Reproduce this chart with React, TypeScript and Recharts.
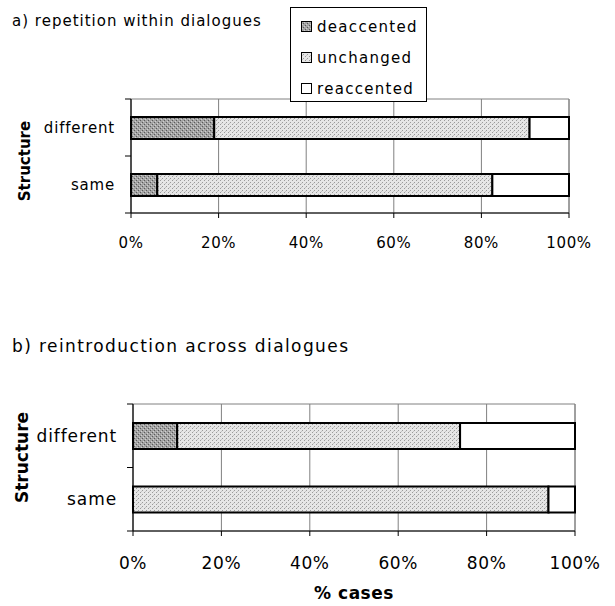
import React from "react";
import {
    BarChart,
    Bar,
    XAxis,
    YAxis,
    CartesianGrid,
    ReferenceArea,
    Legend,
    Label,
} from "recharts";

// categories on the vertical axis
const categories = ["different", "same"];
const seriesNames = ["deaccented", "unchanged", "reaccented"];
const percentTicks = [0, 20, 40, 60, 80, 100];

// a) repetition within dialogues (% of cases)
const repDeaccented = [19, 6];
const repUnchanged = [72, 76.5];
const repReaccented = [9, 17.5];

// b) reintroduction across dialogues (% of cases)
const reDeaccented = [10, 0];
const reUnchanged = [64, 94];
const reReaccented = [26, 6];

const FONT = "'DejaVu Sans', sans-serif";
const fills = ["url(#patDeacc)", "url(#patUnch)", "#ffffff"];

const buildRows = (d: number[], u: number[], r: number[]) =>
    categories.map((name, i) => ({
        name,
        deaccented: d[i],
        unchanged: u[i],
        reaccented: r[i],
    }));

const repData = buildRows(repDeaccented, repUnchanged, repReaccented);
const reData = buildRows(reDeaccented, reUnchanged, reReaccented);

function Patterns() {
    return (
        <defs>
            <pattern id="patDeacc" width="4" height="4" patternUnits="userSpaceOnUse">
                <rect width="4" height="4" fill="#a4a4a4" />
                <rect x="0" y="0" width="1" height="1" fill="#5a5a5a" />
                <rect x="2" y="2" width="1" height="1" fill="#5a5a5a" />
                <rect x="1" y="3" width="1" height="1" fill="#d0d0d0" />
                <rect x="3" y="1" width="1" height="1" fill="#d0d0d0" />
            </pattern>
            <pattern id="patUnch" width="4" height="4" patternUnits="userSpaceOnUse">
                <rect width="4" height="4" fill="#e6e6e6" />
                <rect x="0" y="0" width="1" height="1" fill="#9a9a9a" />
                <rect x="2" y="2" width="1" height="1" fill="#9a9a9a" />
                <rect x="1" y="3" width="1" height="1" fill="#c4c4c4" />
            </pattern>
        </defs>
    );
}

function CategoryTick(props: any) {
    const { x, y, payload, index, band, size, margin, fontSize, spacing, count } = props;
    const axisX = x + margin + size;
    return (
        <g>
            <line x1={axisX - size} x2={axisX} y1={y - band / 2} y2={y - band / 2} stroke="#000" />
            {index === count - 1 && (
                <line x1={axisX - size} x2={axisX} y1={y + band / 2} y2={y + band / 2} stroke="#000" />
            )}
            <text
                x={x}
                y={y}
                textAnchor="end"
                dominantBaseline="central"
                fontFamily={FONT}
                fontSize={fontSize}
                letterSpacing={spacing}
                fill="#000"
            >
                {payload.value}
            </text>
        </g>
    );
}

function StructureLabel(props: any) {
    const { viewBox, dx, dy, fontSize } = props;
    const cx = viewBox.x + dx;
    const cy = viewBox.y + viewBox.height / 2 + dy;
    return (
        <text
            x={cx}
            y={cy}
            transform={`rotate(-90 ${cx} ${cy})`}
            textAnchor="middle"
            dominantBaseline="central"
            fontFamily={FONT}
            fontWeight="bold"
            fontSize={fontSize}
            fill="#000"
        >
            Structure
        </text>
    );
}

function LegendBox() {
    return (
        <div
            style={{
                boxSizing: "border-box",
                width: 137,
                height: 95,
                border: "1px solid #000",
                background: "#fff",
                padding: "3px 0 0 10px",
                fontFamily: FONT,
                fontSize: 15,
                letterSpacing: 1.3,
            }}
        >
            {seriesNames.map((n, i) => (
                <div key={n} style={{ display: "flex", alignItems: "center", height: 31 }}>
                    <svg width={12} height={12} style={{ marginRight: 4 }}>
                        <rect x={0.5} y={0.5} width={10} height={10} fill={fills[i]} stroke="#000" />
                    </svg>
                    <span>{n}</span>
                </div>
            ))}
        </div>
    );
}

function StackedPanel({
    data,
    width,
    height,
    top,
    right,
    yWidth,
    xHeight,
    barSize,
    band,
    fontSize,
    spacing,
    labelDx,
    labelDy,
    tickMargin,
    withLegend,
    xLabel,
}: any) {
    return (
        <BarChart
            width={width}
            height={height}
            data={data}
            layout="vertical"
            margin={{ top, right, bottom: 0, left: 0 }}
            barCategoryGap={0}
        >
            <Patterns />
            <CartesianGrid horizontal={false} vertical stroke="#808080" />
            <ReferenceArea x1={0} x2={100} fill="none" stroke="#808080" ifOverflow="visible" />
            <XAxis
                type="number"
                domain={[0, 100]}
                ticks={percentTicks}
                tickFormatter={(v) => `${v}%`}
                height={xHeight}
                tickSize={5}
                tickMargin={tickMargin}
                axisLine={{ stroke: "#000" }}
                tickLine={{ stroke: "#000" }}
                tick={{ fill: "#000", fontFamily: FONT, fontSize, letterSpacing: 0.6 }}
            >
                {xLabel && (
                    <Label
                        value="% cases"
                        position="insideBottom"
                        offset={7}
                        fill="#000"
                        fontFamily={FONT}
                        fontWeight="bold"
                        fontSize={17}
                        letterSpacing={0.5}
                    />
                )}
            </XAxis>
            <YAxis
                type="category"
                dataKey="name"
                width={yWidth}
                tickSize={6}
                tickMargin={10}
                tickLine={false}
                axisLine={{ stroke: "#000" }}
                tick={(p: any) => (
                    <CategoryTick
                        {...p}
                        band={band}
                        size={6}
                        margin={10}
                        fontSize={fontSize}
                        spacing={spacing}
                        count={categories.length}
                    />
                )}
            >
                <Label
                    content={(p: any) => (
                        <StructureLabel {...p} dx={labelDx} dy={labelDy} fontSize={fontSize} />
                    )}
                />
            </YAxis>
            {withLegend && (
                <Legend
                    layout="vertical"
                    align="center"
                    verticalAlign="middle"
                    wrapperStyle={{ left: 290, top: 7, width: 137, height: 95 }}
                    content={() => <LegendBox />}
                />
            )}
            {seriesNames.map((n, i) => (
                <Bar
                    key={n}
                    dataKey={n}
                    name={n}
                    stackId="s"
                    fill={fills[i]}
                    stroke="#000"
                    strokeWidth={2}
                    barSize={barSize}
                    isAnimationActive={false}
                />
            ))}
        </BarChart>
    );
}

export default function App() {
    return (
        <div
            style={{
                position: "absolute",
                left: 0,
                top: 0,
                width: 615,
                height: 606,
                background: "#fff",
                fontFamily: FONT,
                color: "#000",
            }}
        >
            <div style={{ position: "absolute", left: 12, top: 12, fontSize: 15, letterSpacing: 1 }}>
                a) repetition within dialogues
            </div>
            <div style={{ position: "absolute", left: 0, top: 0 }}>
                <StackedPanel
                    data={repData}
                    width={615}
                    height={270}
                    top={99}
                    right={46}
                    yWidth={131}
                    xHeight={57}
                    barSize={22}
                    band={57}
                    fontSize={15}
                    spacing={0.8}
                    labelDx={25}
                    labelDy={5}
                    tickMargin={19}
                    withLegend
                />
            </div>
            <div style={{ position: "absolute", left: 12, top: 336, fontSize: 17, letterSpacing: 1.4 }}>
                b) reintroduction across dialogues
            </div>
            <div style={{ position: "absolute", left: 0, top: 300 }}>
                <StackedPanel
                    data={reData}
                    width={615}
                    height={306}
                    top={104}
                    right={40}
                    yWidth={133}
                    xHeight={75}
                    barSize={26}
                    band={63.5}
                    fontSize={17}
                    spacing={0.9}
                    labelDx={22}
                    labelDy={-10}
                    tickMargin={21}
                    xLabel
                />
            </div>
        </div>
    );
}
